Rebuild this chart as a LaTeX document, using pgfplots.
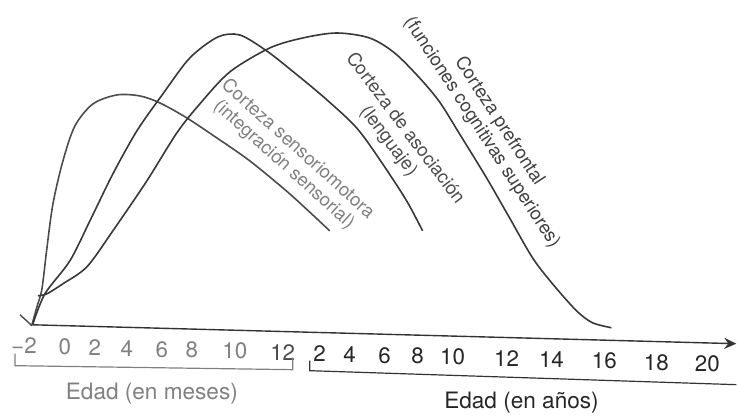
\documentclass[border=0pt]{standalone}
\usepackage{pgfplots}
\pgfplotsset{compat=1.18}
\usepackage{fontspec}
\setmainfont{TeX Gyre Heros}
\usetikzlibrary{arrows.meta}
\definecolor{lineA}{gray}{0.30}
\definecolor{lineB}{gray}{0.22}
\definecolor{txtlight}{gray}{0.50}
\definecolor{txtdark}{gray}{0.15}
\begin{document}
\begin{tikzpicture}
\begin{axis}[width=368.5pt,height=204pt,scale only axis,
  xmin=0,xmax=737,ymin=-408,ymax=0,hide axis,clip=false]
% frame for bounding box
\addplot[draw=none] coordinates {(0,0) (737,-408)};
% baseline axis with arrow
\addplot[black!80, line width=0.7pt, -{Stealth[length=6pt,width=5.5pt]}] coordinates {(30,-314) (737,-333)};
% V mark
\addplot[lineA, line width=0.7pt] coordinates {(20,-304) (32,-315)};
% Corteza sensoriomotora
\addplot[lineA, line width=0.8pt, smooth, tension=0.5] coordinates {
(32,-314) (37,-296) (42,-278) (47,-237) (53,-193) (63,-150) (75,-115) (93,-93)
(117,-84) (140,-85) (160,-92) (187,-107) (217,-127) (250,-150) (290,-183) (330,-220)};
% Corteza de asociacion
\addplot[lineB, line width=0.8pt, smooth, tension=0.5] coordinates {
(33,-313) (45,-283) (70,-250) (90,-210) (113,-163) (137,-120) (163,-83) (190,-47)
(218,-26) (240,-24) (267,-40) (295,-62) (325,-87) (357,-117) (383,-153) (407,-190) (423,-220)};
% Corteza prefrontal
\addplot[lineB, line width=0.8pt, smooth, tension=0.5] coordinates {
(38,-285) (47,-283) (63,-273) (87,-256) (113,-220) (147,-170) (177,-122) (200,-93)
(230,-61) (270,-37) (303,-27) (337,-22) (370,-27) (395,-42) (420,-67) (440,-91)
(460,-123) (487,-167) (510,-207) (533,-247) (553,-273) (577,-300) (593,-312) (612,-317)};
% rotated labels
\begin{scope}[every node/.style={align=center, font=\fontsize{9.3}{10.3}\selectfont, inner sep=1pt}]
\node[rotate=-42, text=txtlight] at (axis cs:291,-146) {Corteza sensoriomotora\\(integración sensorial)};
\node[rotate=-53, text=black!70] at (axis cs:397,-124) {Corteza de asociación\\(lenguaje)};
\node[rotate=-57, text=black!75] at (axis cs:491,-116) {Corteza prefrontal\\(funciones cognitivas superiores)};
\end{scope}
% tick labels (months)
\begin{scope}[every node/.style={text=txtlight, font=\fontsize{11.2}{13}\selectfont}]
\node at (axis cs:24,-335) {\char"2212 2};
\node at (axis cs:65,-336) {0};
\node at (axis cs:95,-337) {2};
\node at (axis cs:127,-338) {4};
\node at (axis cs:162,-339) {6};
\node at (axis cs:192,-339.5) {8};
\node at (axis cs:235,-340.5) {10};
\node[text=black!70] at (axis cs:283,-342) {12};
\end{scope}
% tick labels (years)
\begin{scope}[every node/.style={text=txtdark, font=\fontsize{11.2}{13}\selectfont}]
\node at (axis cs:320,-343) {2};
\node at (axis cs:350,-343.6) {4};
\node at (axis cs:385,-344.6) {6};
\node at (axis cs:418,-345.5) {8};
\node at (axis cs:453,-346.4) {10};
\node at (axis cs:507,-348) {12};
\node at (axis cs:552,-349) {14};
\node at (axis cs:605,-350.5) {16};
\node at (axis cs:657,-352) {18};
\node at (axis cs:708,-353.3) {20};
\end{scope}
% brackets
\addplot[black!50, line width=0.6pt] coordinates {(15,-343) (15,-355) (293,-359) (293,-347)};
\addplot[black!80, line width=0.6pt] coordinates {(310,-350) (310,-360) (737,-374)};
% axis titles
\node[text=txtlight, font=\fontsize{11.3}{13}\selectfont] at (axis cs:152,-383) {Edad (en meses)};
\node[text=txtdark, font=\fontsize{11.3}{13}\selectfont] at (axis cs:522,-392) {Edad (en años)};
\end{axis}
\end{tikzpicture}
\end{document}
